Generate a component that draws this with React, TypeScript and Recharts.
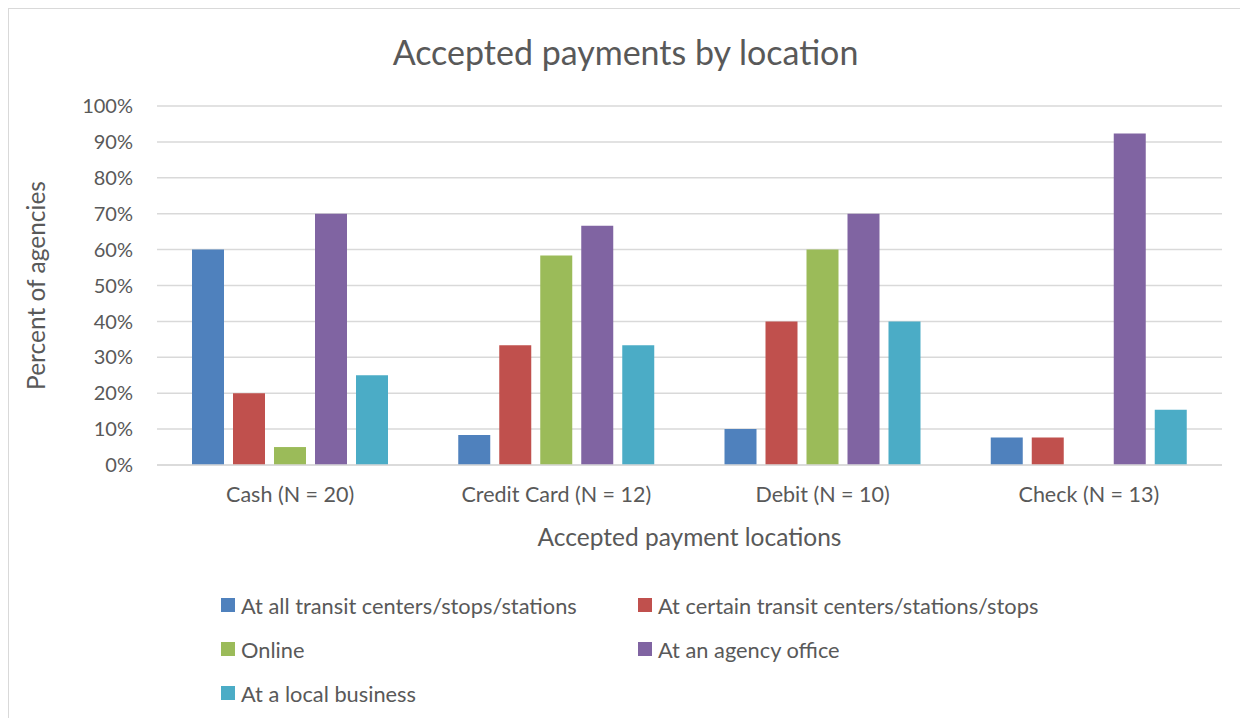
import { BarChart, Bar, XAxis, YAxis, CartesianGrid } from "recharts"

const categories = ["Cash (N = 20)", "Credit Card (N = 12)", "Debit (N = 10)", "Check (N = 13)"]
const allStations = [60, 8.33, 10, 7.69]
const certainStations = [20, 33.33, 40, 7.69]
const online = [5, 58.33, 60, 0]
const agencyOffice = [70, 66.67, 70, 92.31]
const localBusiness = [25, 33.33, 40, 15.38]
const yTicks = [0, 10, 20, 30, 40, 50, 60, 70, 80, 90, 100]

const series = [
  { key: "all", label: "At all transit centers/stops/stations", values: allStations, color: "#4F81BD" },
  { key: "certain", label: "At certain transit centers/stations/stops", values: certainStations, color: "#C0504D" },
  { key: "online", label: "Online", values: online, color: "#9BBB59" },
  { key: "office", label: "At an agency office", values: agencyOffice, color: "#8064A2" },
  { key: "business", label: "At a local business", values: localBusiness, color: "#4BACC6" },
]

const data = categories.map((name, i) => {
  const row: Record<string, string | number> = { name }
  series.forEach((s) => (row[s.key] = s.values[i]))
  return row
})

const FONT = "Lato, 'Open Sans', sans-serif"
const TEXT = "#595959"

export default function App() {
  return (
    <div
      style={{
        position: "relative",
        width: 1231,
        height: 709,
        borderTop: "1px solid #d9d9d9",
        borderLeft: "1px solid #d9d9d9",
        fontFamily: FONT,
        background: "#fff",
      }}
    >
      <div
        style={{
          position: "absolute",
          top: 23,
          left: 0,
          width: 1233,
          textAlign: "center",
          fontSize: 34,
          color: TEXT,
          lineHeight: "40px",
        }}
      >
        Accepted payments by location
      </div>
      <BarChart
        width={1231}
        height={709}
        data={data}
        margin={{ top: 97, right: 18, left: 0, bottom: 153 }}
        barSize={32}
        barGap={9}
      >
        <CartesianGrid vertical={false} stroke="#d9d9d9" strokeWidth={1.5} />
        <XAxis
          dataKey="name"
          height={100}
          tickLine={false}
          tickSize={0}
          tickMargin={22}
          axisLine={{ stroke: "#d9d9d9", strokeWidth: 1.5 }}
          tick={{ fill: TEXT, fontSize: 21.5, fontFamily: FONT }}
          label={({ viewBox }: any) => (
            <text
              x={viewBox.x + viewBox.width / 2}
              y={viewBox.y + 71}
              textAnchor="middle"
              dominantBaseline="central"
              fill={TEXT}
              fontSize={24.5}
              fontFamily={FONT}
            >
              Accepted payment locations
            </text>
          )}
        />
        <YAxis
          width={148}
          domain={[0, 100]}
          ticks={yTicks}
          interval={0}
          tickFormatter={(v) => `${v}%`}
          axisLine={false}
          tickLine={false}
          tickSize={0}
          tickMargin={24}
          tick={{ fill: TEXT, fontSize: 20, fontFamily: FONT }}
          label={({ viewBox }: any) => {
            const cx = 26
            const cy = viewBox.y + viewBox.height / 2
            return (
              <text
                x={cx}
                y={cy}
                transform={`rotate(-90, ${cx}, ${cy})`}
                textAnchor="middle"
                dominantBaseline="central"
                fill={TEXT}
                fontSize={24.5}
                fontFamily={FONT}
              >
                Percent of agencies
              </text>
            )
          }}
        />
        {series.map((s) => (
          <Bar key={s.key} dataKey={s.key} name={s.label} fill={s.color} isAnimationActive={false} />
        ))}
      </BarChart>
      <div
        style={{
          position: "absolute",
          left: 212,
          top: 574,
          display: "grid",
          gridTemplateColumns: "417px 417px",
          rowGap: 0,
        }}
      >
        {series.map((s) => (
          <div
            key={s.key}
            style={{ display: "flex", alignItems: "center", height: 44, fontSize: 21.8, color: TEXT }}
          >
            <span style={{ width: 14, height: 14, background: s.color, marginRight: 6, display: "inline-block", flexShrink: 0 }} />
            {s.label}
          </div>
        ))}
      </div>
    </div>
  )
}
